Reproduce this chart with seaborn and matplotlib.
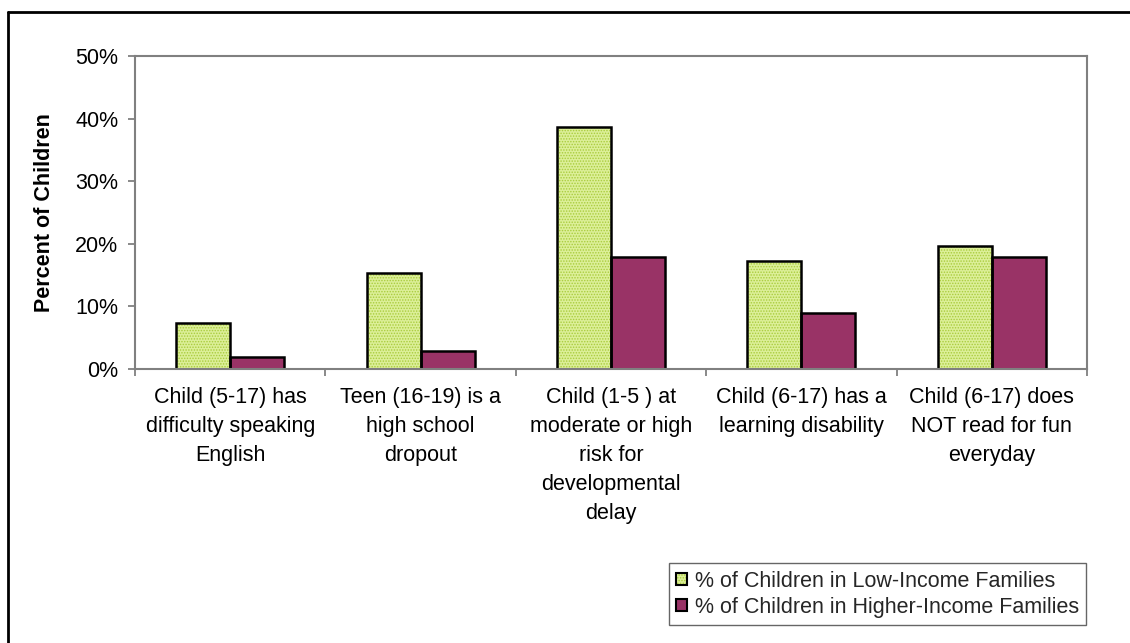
import matplotlib
matplotlib.use("Agg")
import matplotlib.pyplot as plt
import matplotlib.ticker as mticker
from matplotlib.patches import Patch
from matplotlib.lines import Line2D
import seaborn as sns
import pandas as pd

# Indicator categories and the share of children for each income group
categories = [
    "Child (5-17) has\ndifficulty speaking\nEnglish",
    "Teen (16-19) is a\nhigh school\ndropout",
    "Child (1-5 ) at\nmoderate or high\nrisk for\ndevelopmental\ndelay",
    "Child (6-17) has a\nlearning disability",
    "Child (6-17) does\nNOT read for fun\neveryday",
]
low_income = [0.074, 0.154, 0.387, 0.173, 0.196]
higher_income = [0.019, 0.029, 0.179, 0.090, 0.179]
series_names = [
    "% of Children in Low-Income Families",
    "% of Children in Higher-Income Families",
]
y_ticks = [0.0, 0.1, 0.2, 0.3, 0.4, 0.5]

GREEN = "#DCEF98"
GREEN_DOTS = "#A9CC3C"
PURPLE = "#993366"
SPINE_GRAY = "#808080"

df = pd.DataFrame({
    "category": categories * 2,
    "group": [series_names[0]] * len(categories) + [series_names[1]] * len(categories),
    "value": low_income + higher_income,
})

sns.set_theme(style="white")
plt.rcParams["font.family"] = ["Liberation Sans", "DejaVu Sans"]
plt.rcParams["hatch.linewidth"] = 0.7

fig = plt.figure(figsize=(11.30, 6.43), dpi=100)
ax = fig.add_axes([0.1195, 0.4261, 0.8425, 0.4868])

# Filled bars
sns.barplot(data=df, x="category", y="value", hue="group",
            order=categories, hue_order=series_names,
            palette=[GREEN, PURPLE], width=0.567, linewidth=0,
            saturation=1, legend=False, ax=ax)
# Stippled texture on the low-income bars
for bar in ax.containers[0]:
    bar.set_hatch("......")
    bar.set_edgecolor(GREEN_DOTS)
    bar.set_linewidth(0)

# Black outlines on top of every bar
sns.barplot(data=df, x="category", y="value", hue="group",
            order=categories, hue_order=series_names,
            palette=["black", "black"], width=0.567, fill=False,
            linewidth=1.8, legend=False, ax=ax)

ax.set_ylim(0, 0.5)
ax.set_xlim(-0.5, len(categories) - 0.5)
ax.set_yticks(y_ticks)
ax.yaxis.set_major_formatter(mticker.PercentFormatter(1.0, decimals=0))

ax.set_xlabel("")
ax.set_ylabel("Percent of Children", fontsize=15.5, fontweight="bold", color="black")
ax.yaxis.set_label_coords(-0.084, 0.5)

for side in ["left", "bottom", "top", "right"]:
    ax.spines[side].set_visible(True)
    ax.spines[side].set_color(SPINE_GRAY)
    ax.spines[side].set_linewidth(1.5)

ax.tick_params(axis="y", which="major", left=True, length=5, width=1.3,
               color=SPINE_GRAY, labelsize=15.5, labelcolor="black", pad=7)
# Category labels at bar centres, tick marks at category boundaries
ax.set_xticks(range(len(categories)))
ax.set_xticklabels(categories, fontsize=15.5, color="black", linespacing=1.5)
ax.set_xticks([i - 0.5 for i in range(len(categories) + 1)], minor=True)
ax.tick_params(axis="x", which="major", bottom=True, length=0, pad=13)
ax.tick_params(axis="x", which="minor", bottom=True, length=5, width=1.3,
               color=SPINE_GRAY)
ax.grid(False)

# Legend with stippled and solid swatches
green_handle = (
    Patch(facecolor=GREEN, edgecolor=GREEN_DOTS, hatch="......", linewidth=0),
    Patch(facecolor="none", edgecolor="black", linewidth=1.5),
)
purple_handle = Patch(facecolor=PURPLE, edgecolor="black", linewidth=1.5)
leg = fig.legend([green_handle, purple_handle], series_names,
                 loc="upper right", bbox_to_anchor=(0.9613, 0.1244),
                 fontsize=15.5, frameon=True, fancybox=False,
                 handlelength=0.5, handleheight=0.5, handletextpad=0.35,
                 labelspacing=0.25, borderpad=0.35, borderaxespad=0)
leg.get_frame().set_edgecolor("#404040")
leg.get_frame().set_linewidth(1.0)

# Outer frame (left and top edges)
fig.add_artist(Line2D([0.0075, 0.0075], [0.0, 0.9813], transform=fig.transFigure,
                      color="black", linewidth=2))
fig.add_artist(Line2D([0.0075, 1.0], [0.9813, 0.9813], transform=fig.transFigure,
                      color="black", linewidth=2))

fig.savefig("out.png", dpi=100)
